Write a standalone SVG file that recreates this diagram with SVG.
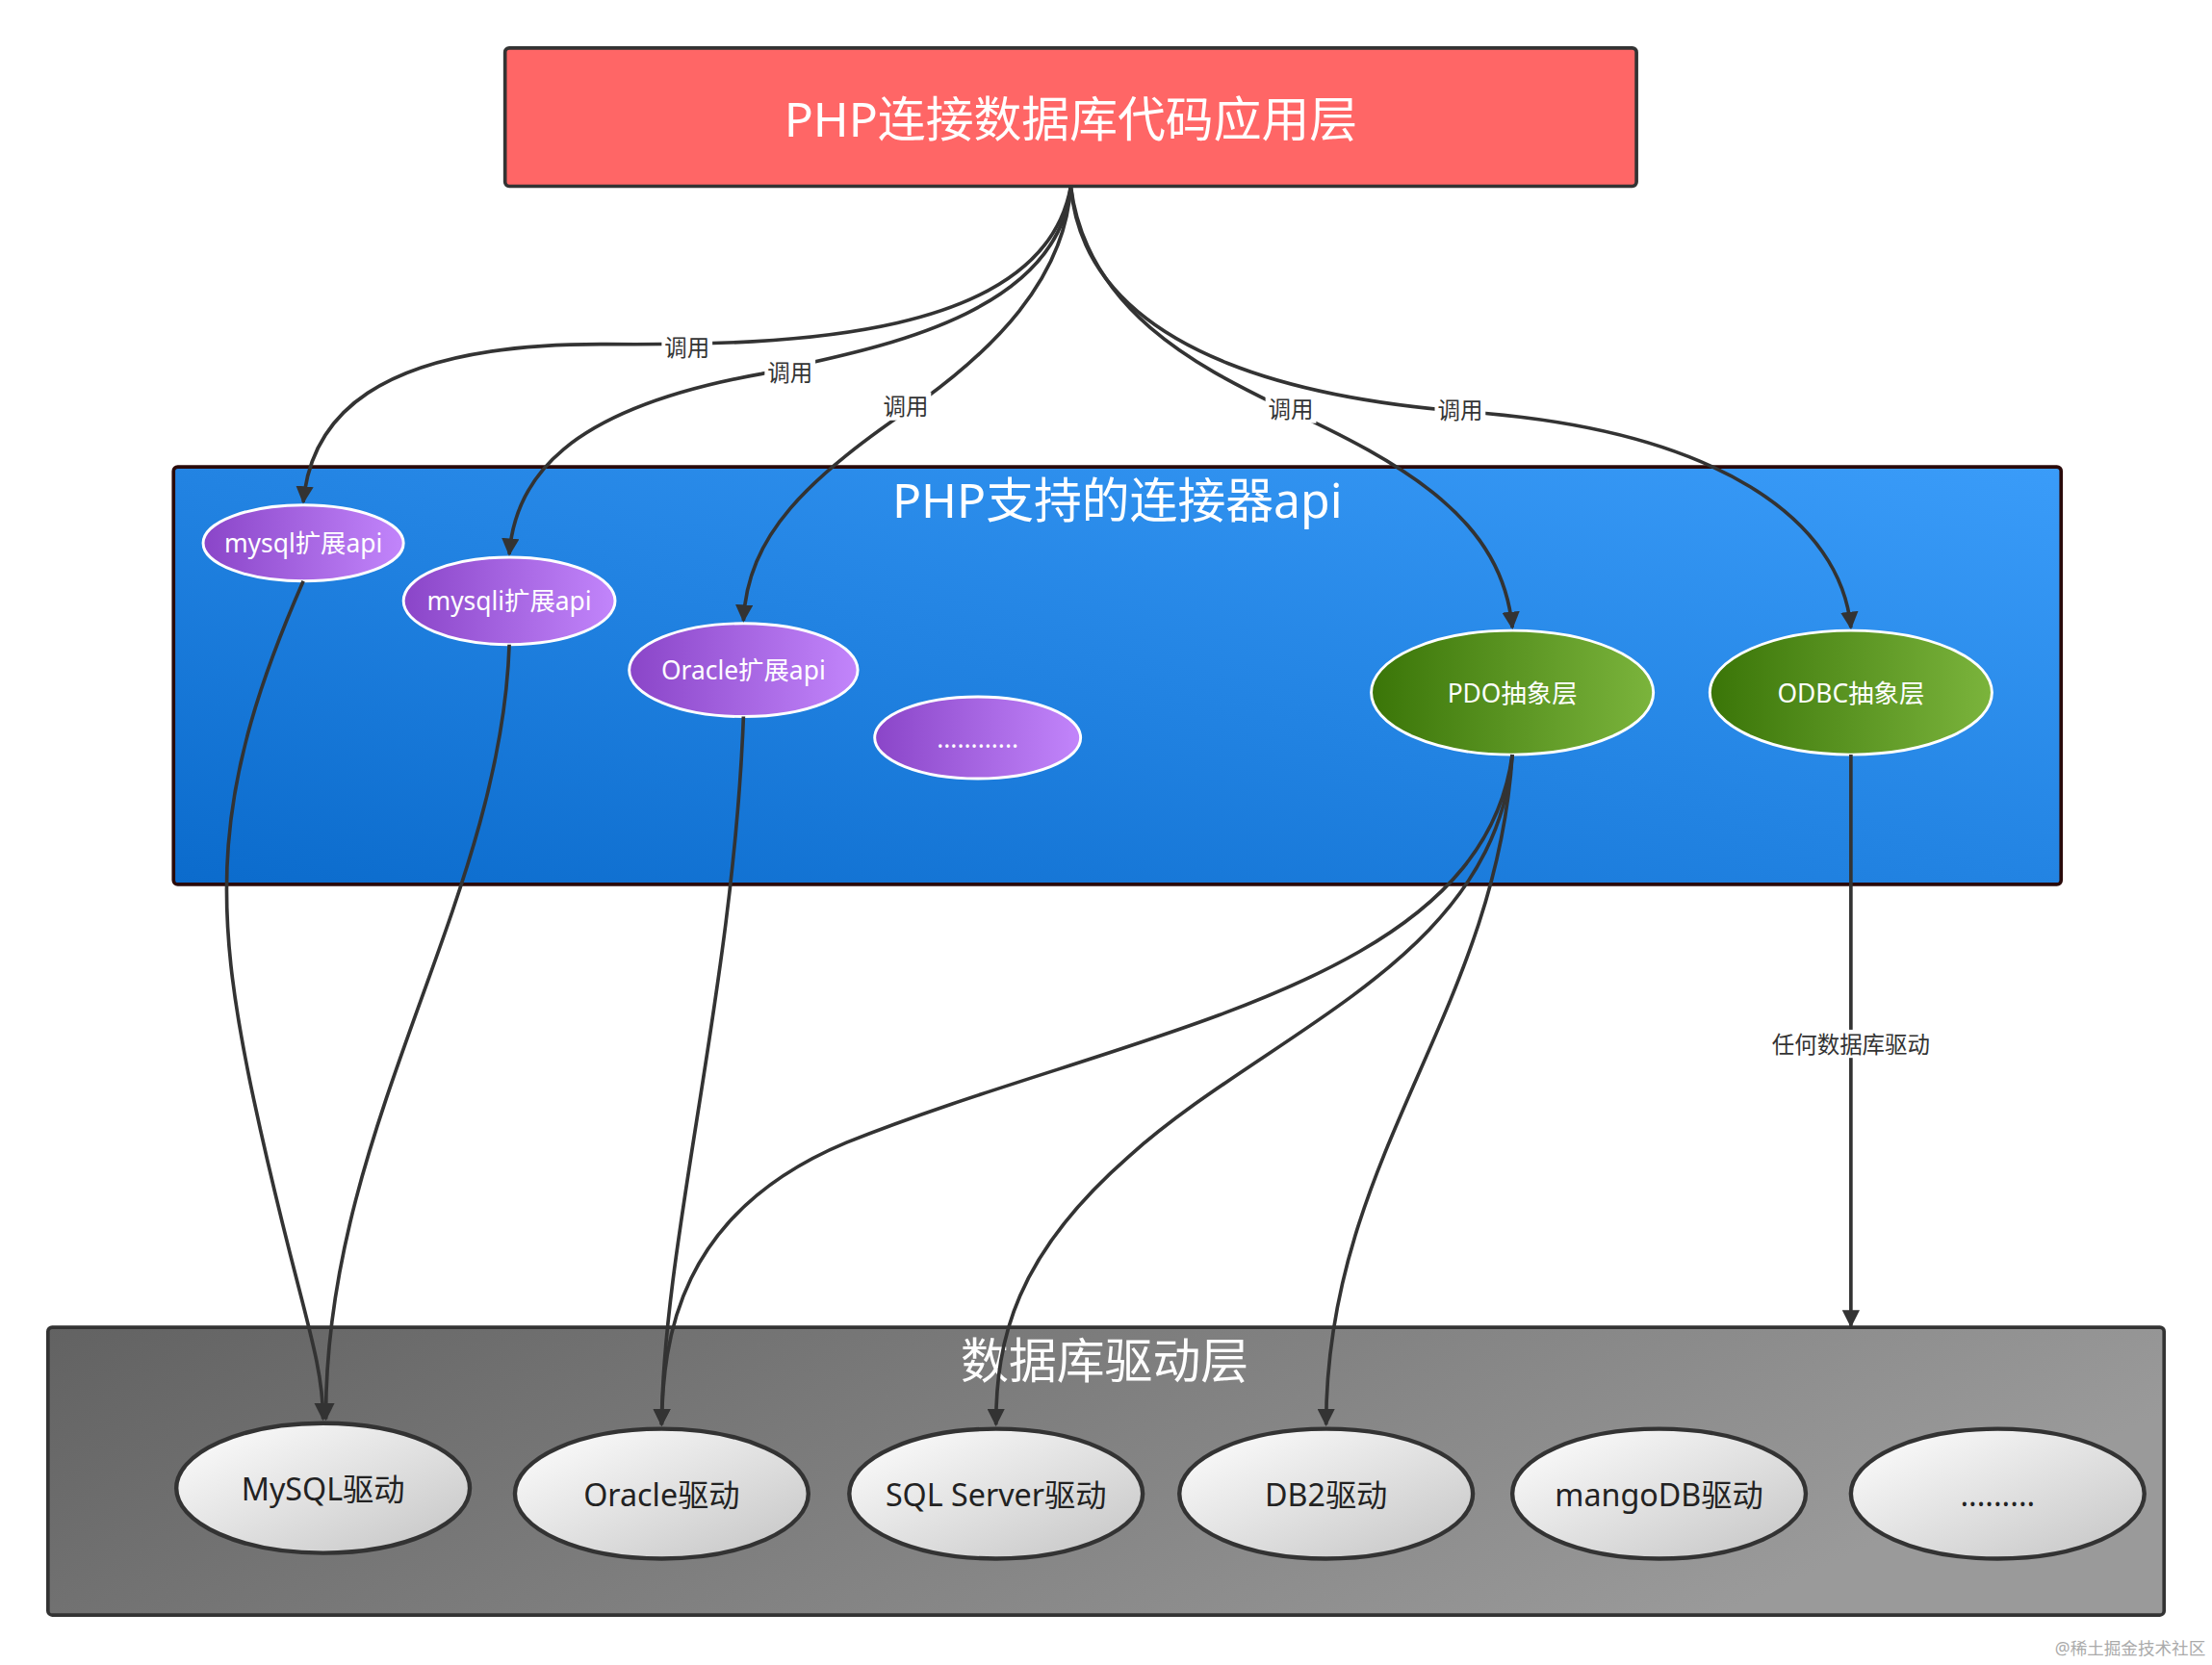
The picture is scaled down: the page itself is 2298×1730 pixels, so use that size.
<svg xmlns="http://www.w3.org/2000/svg" width="2298" height="1730" viewBox="0 0 2298 1730">
<defs>
<linearGradient id="gBlue" x1="0" y1="1" x2="1" y2="0"><stop offset="0" stop-color="#0b6bcc"/><stop offset="1" stop-color="#3a9cf9"/></linearGradient>
<linearGradient id="gGray" x1="0" y1="0" x2="1" y2="0.3"><stop offset="0" stop-color="#626262"/><stop offset="1" stop-color="#9a9a9a"/></linearGradient>
<linearGradient id="gPurple" x1="0" y1="0" x2="1" y2="0"><stop offset="0" stop-color="#8a45c8"/><stop offset="1" stop-color="#c285fb"/></linearGradient>
<linearGradient id="gGreen" x1="0" y1="0" x2="1" y2="0"><stop offset="0" stop-color="#3a7508"/><stop offset="1" stop-color="#7bb43c"/></linearGradient>
<linearGradient id="gWhite" x1="0" y1="0" x2="1" y2="1"><stop offset="0" stop-color="#ffffff"/><stop offset="1" stop-color="#c4c4c4"/></linearGradient>
<marker id="arr" viewBox="0 0 10 10" refX="9" refY="5" markerWidth="5" markerHeight="5" orient="auto"><path d="M0,0 L10,5 L0,10 z" fill="#333"/></marker>
</defs>
<style>
text{font-family:"Noto Sans","Noto Sans CJK SC",sans-serif;text-anchor:middle;dominant-baseline:central}
.t{fill:#fff;font-size:34px}
.s{fill:#fff;font-size:18px}
.d{fill:#222;font-size:22px}
.l{fill:#333;font-size:16px}
.c{fill:none;stroke:#333;stroke-width:2.5;marker-end:url(#arr)}
.pe{fill:url(#gPurple);stroke:#fff;stroke-width:2}
.ge{fill:url(#gGreen);stroke:#fff;stroke-width:2}
.we{fill:url(#gWhite);stroke:#333;stroke-width:3}
.lb{fill:#fff}
</style>
<rect width="2298" height="1730" fill="#fff"/>
<g transform="scale(1.4656)">
<g id="app"><rect x="358" y="34" width="802" height="98" rx="3" fill="#ff6666" stroke="#333" stroke-width="2.5"/><text class="t" x="759" y="84">PHP连接数据库代码应用层</text></g>
<g id="apiLayer"><rect x="123" y="331" width="1338" height="296" rx="3" fill="url(#gBlue)" stroke="#2a0a0a" stroke-width="2.5"/><text class="t" x="792" y="354">PHP支持的连接器api</text></g>
<g id="driverLayer"><rect x="34" y="941" width="1500" height="204" rx="3" fill="url(#gGray)" stroke="#333" stroke-width="2.5"/><text class="t" x="783" y="964">数据库驱动层</text></g>
<g id="mysqlApi"><ellipse class="pe" cx="215" cy="385" rx="71" ry="27"/><text class="s" x="215" y="385">mysql扩展api</text></g>
<g id="mysqliApi"><ellipse class="pe" cx="361" cy="426" rx="75" ry="31"/><text class="s" x="361" y="426">mysqli扩展api</text></g>
<g id="oracleApi"><ellipse class="pe" cx="527" cy="475" rx="81" ry="33"/><text class="s" x="527" y="475">Oracle扩展api</text></g>
<g id="moreApi"><ellipse class="pe" cx="693" cy="523" rx="73" ry="29"/><text class="s" x="693" y="523">............</text></g>
<g id="pdo"><ellipse class="ge" cx="1072" cy="491" rx="100" ry="44"/><text class="s" x="1072" y="491">PDO抽象层</text></g>
<g id="odbc"><ellipse class="ge" cx="1312" cy="491" rx="100" ry="44"/><text class="s" x="1312" y="491">ODBC抽象层</text></g>
<g id="connectors">
<path class="c" d="M759,132 C740,240 560,245 430,244 C260,243 220,300 215,356"/>
<path class="c" d="M759,132 C750,230 600,250 540,265 C400,290 365,340 361,393"/>
<path class="c" d="M759,132 C755,200 700,250 655,283 C570,340 530,380 527,440"/>
<path class="c" d="M759,132 C770,220 850,260 905,287 C1000,330 1065,370 1072,445"/>
<path class="c" d="M759,132 C770,260 950,285 1040,292 C1220,305 1305,370 1312,445"/>
<path class="c" d="M215,412 C150,560 150,640 180,780 C210,920 229,960 229,1006"/>
<path class="c" d="M361,457 C355,640 230,800 231,1006"/>
<path class="c" d="M527,508 C520,700 470,880 469,1010"/>
<path class="c" d="M1072,535 C1050,700 800,730 600,810 C480,860 470,950 469,1010"/>
<path class="c" d="M1072,535 C1060,680 900,730 800,820 C720,890 706,950 706,1010"/>
<path class="c" d="M1072,535 C1060,720 940,820 940,1010"/>
<path class="c" d="M1312,535 L1312,940"/>
<rect class="lb" x="469" y="236" width="36" height="20"/><text class="l" x="487" y="246">调用</text>
<rect class="lb" x="542" y="254" width="36" height="20"/><text class="l" x="560" y="264">调用</text>
<rect class="lb" x="624" y="278" width="36" height="20"/><text class="l" x="642" y="288">调用</text>
<rect class="lb" x="897" y="280" width="36" height="20"/><text class="l" x="915" y="290">调用</text>
<rect class="lb" x="1017" y="281" width="36" height="20"/><text class="l" x="1035" y="291">调用</text>
<rect class="lb" x="1250" y="730" width="124" height="20"/><text class="l" x="1312" y="740">任何数据库驱动</text>
</g>
<g id="mysqlDrv"><ellipse class="we" cx="229" cy="1055" rx="104" ry="46"/><text class="d" x="229" y="1055">MySQL驱动</text></g>
<g id="oracleDrv"><ellipse class="we" cx="469" cy="1059" rx="104" ry="46"/><text class="d" x="469" y="1059">Oracle驱动</text></g>
<g id="sqlserverDrv"><ellipse class="we" cx="706" cy="1059" rx="104" ry="46"/><text class="d" x="706" y="1059">SQL Server驱动</text></g>
<g id="db2Drv"><ellipse class="we" cx="940" cy="1059" rx="104" ry="46"/><text class="d" x="940" y="1059">DB2驱动</text></g>
<g id="mangoDrv"><ellipse class="we" cx="1176" cy="1059" rx="104" ry="46"/><text class="d" x="1176" y="1059">mangoDB驱动</text></g>
<g id="moreDrv"><ellipse class="we" cx="1416" cy="1059" rx="104" ry="46"/><text class="d" x="1416" y="1059">.........</text></g>
<text x="1510" y="1168" style="font-size:12px;fill:#aaa">@稀土掘金技术社区</text>
</g>
</svg>
